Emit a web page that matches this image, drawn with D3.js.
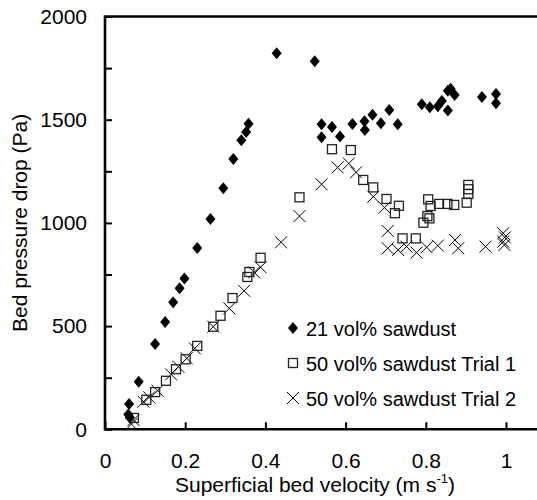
<!DOCTYPE html>
<html>
<head>
<meta charset="utf-8">
<script src="https://cdn.jsdelivr.net/npm/d3@7/dist/d3.min.js"></script>
<style>
  body { margin: 0; background: #fff; }
  text { font-family: Arial, "Liberation Sans", sans-serif; fill: #000; }
</style>
</head>
<body>
<svg id="chart" width="537" height="500"></svg>
<script>
"use strict";

// [velocity m/s, pressure drop Pa]
const saw21 = [
  [0.060,122],[0.058,72],[0.062,58],[0.084,230],[0.125,413],[0.150,520],[0.170,615],
  [0.186,683],[0.198,731],[0.230,878],[0.263,1019],[0.295,1168],[0.320,1310],[0.340,1400],
  [0.352,1440],[0.358,1480],[0.428,1822],[0.523,1783],[0.540,1478],[0.540,1415],[0.566,1465],
  [0.586,1418],[0.617,1479],[0.647,1492],[0.648,1450],[0.667,1524],[0.688,1483],[0.709,1547],
  [0.730,1478],[0.790,1575],[0.810,1560],[0.830,1565],[0.840,1590],[0.855,1640],[0.862,1650],
  [0.872,1620],[0.855,1545],[0.940,1610],[0.975,1625],[0.975,1580]
];
const saw50t1 = [
  [0.072,55],[0.103,143],[0.125,180],[0.152,235],[0.177,291],[0.201,339],[0.230,404],
  [0.270,497],[0.288,550],[0.318,636],[0.355,738],[0.360,762],[0.388,831],[0.485,1124],
  [0.566,1357],[0.613,1353],[0.644,1208],[0.669,1172],[0.702,1116],[0.733,1083],[0.723,1047],
  [0.742,925],[0.775,925],[0.806,1114],[0.812,1082],[0.804,1033],[0.809,1022],[0.794,1001],
  [0.833,1092],[0.854,1092],[0.871,1087],[0.906,1184],[0.906,1163],[0.906,1140],[0.902,1098]
];
const saw50t2 = [
  [0.066,25],[0.071,45],[0.096,134],[0.110,155],[0.131,187],[0.165,266],[0.183,303],
  [0.204,344],[0.224,392],[0.270,497],[0.310,586],[0.347,671],[0.372,760],[0.388,785],
  [0.439,906],[0.485,1033],[0.540,1187],[0.580,1269],[0.608,1288],[0.626,1245],[0.669,1127],
  [0.697,1074],[0.705,961],[0.705,877],[0.731,869],[0.752,885],[0.777,856],[0.802,882],
  [0.830,890],[0.873,917],[0.881,877],[0.949,885],[0.993,950],[0.997,930],[0.993,909],[0.996,893]
];
const xTicks = [0, 0.2, 0.4, 0.6, 0.8, 1];
const yTicks = [0, 250, 500, 750, 1000, 1250, 1500, 1750, 2000];
const legendLabels = ["21 vol% sawdust", "50 vol% sawdust Trial 1", "50 vol% sawdust Trial 2"];

let svg = d3.select("#chart");
let W = 537;

let x = d3.scaleLinear().domain([0, 1]).range([105, 506]);
let y = d3.scaleLinear().domain([0, 2000]).range([429.3, 16.5]);

// marker shapes
let diamond = (g) => g.append("path").attr("d", "M0,-6L5,0L0,6L-5,0Z").attr("fill", "#000");
let square = (g) => g.append("rect").attr("x", -4.5).attr("y", -4.5).attr("width", 9).attr("height", 9)
  .attr("fill", "none").attr("stroke", "#222").attr("stroke-width", 1.3);
let cross = (g) => g.append("path").attr("d", "M-6,-6L6,6M-6,6L6,-6").attr("fill", "none")
  .attr("stroke", "#000").attr("stroke-width", 1);

let plot = svg.append("g");
[[saw50t2, cross], [saw50t1, square], [saw21, diamond]].forEach(([data, mk]) => {
  plot.append("g").selectAll("g").data(data).join("g")
    .attr("transform", d => `translate(${x(d[0])},${y(d[1])})`)
    .each(function () { mk(d3.select(this)); });
});

// axes
let xAxis = svg.append("g").attr("transform", `translate(0,${y(0)})`)
  .call(d3.axisBottom(x).tickValues(xTicks).tickSizeInner(-7).tickSizeOuter(0).tickPadding(24)
    .tickFormat(d => d3.format("")(+d.toFixed(1))));
let yAxis = svg.append("g").attr("transform", `translate(${x(0)},0)`)
  .call(d3.axisLeft(y).tickValues(yTicks).tickSizeInner(-7).tickSizeOuter(0).tickPadding(18)
    .tickFormat(d => d % 500 === 0 ? d : ""));
[xAxis, yAxis].forEach(a => {
  a.select(".domain").remove();
  a.selectAll(".tick line").attr("stroke", "#000").attr("stroke-width", 2);
  a.selectAll(".tick text").attr("font-size", 21).attr("font-family", "Arial, 'Liberation Sans', sans-serif");
});

// frame lines: left, bottom, top (plot runs off the right edge)
svg.append("path")
  .attr("d", `M${W},${y(2000)}H${x(0)}V${y(0)}H${W}`)
  .attr("fill", "none").attr("stroke", "#000").attr("stroke-width", 2.6);

// axis titles
svg.append("text").attr("x", 315).attr("y", 492).attr("text-anchor", "middle").attr("font-size", 21)
  .text("Superficial bed velocity (m s")
  .append("tspan").attr("font-size", 13).attr("dy", -9).text("-1")
  .clone().attr("font-size", 21).attr("dy", 9).text(")");
svg.append("text").attr("transform", `translate(27,${(y(0) + y(2000)) / 2}) rotate(-90)`)
  .attr("text-anchor", "middle").attr("font-size", 21)
  .text("Bed pressure drop (Pa)");

// legend
let leg = svg.append("g");
[diamond, square, cross].forEach((mk, i) => {
  let row = leg.append("g").attr("transform", `translate(293,${328 + i * 35})`);
  mk(row);
  row.append("text").attr("x", 13).attr("y", 7.5).attr("font-size", 20).text(legendLabels[i]);
});
</script>
</body>
</html>
